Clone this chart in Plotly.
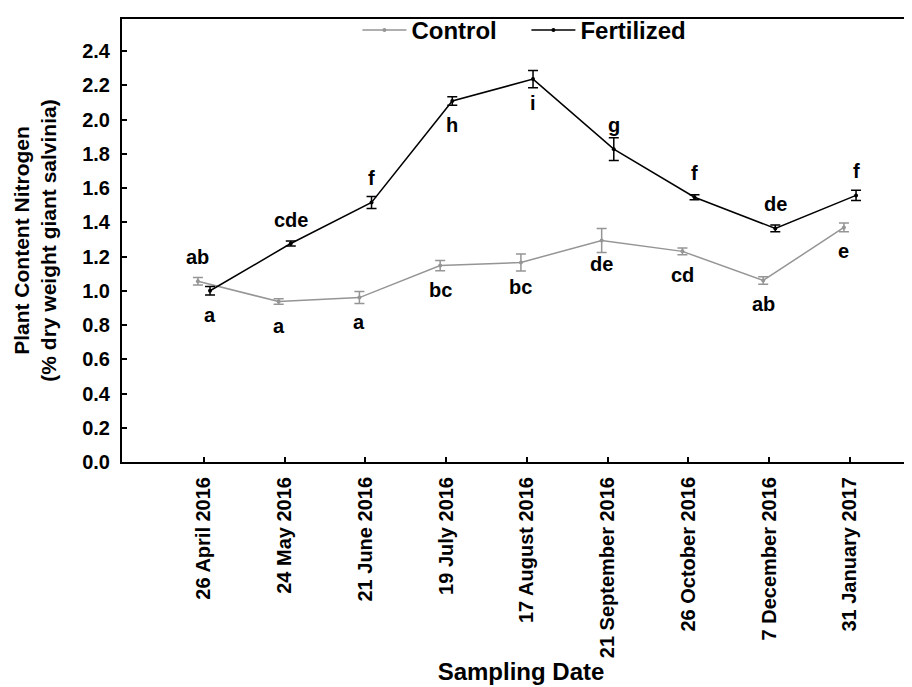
import plotly.graph_objects as go

dates = ["26 April 2016", "24 May 2016", "21 June 2016", "19 July 2016", "17 August 2016",
         "21 September 2016", "26 October 2016", "7 December 2016", "31 January 2017"]

control_mean = [1.055, 0.937, 0.96, 1.147, 1.165, 1.294, 1.23, 1.06, 1.37]
control_err = [0.022, 0.016, 0.035, 0.03, 0.05, 0.07, 0.02, 0.022, 0.025]
control_letters = ["ab", "a", "a", "bc", "bc", "de", "cd", "ab", "e"]

fert_mean = [1.00, 1.276, 1.516, 2.108, 2.236, 1.827, 1.546, 1.364, 1.557]
fert_err = [0.025, 0.015, 0.035, 0.025, 0.05, 0.066, 0.015, 0.02, 0.03]
fert_letters = ["a", "cde", "f", "h", "i", "g", "f", "de", "f"]

idx = list(range(len(dates)))
offset = 0.075
ctrl_x = [i - offset for i in idx]
fert_x = [i + offset for i in idx]

FONT = "Liberation Sans, Arial, sans-serif"
GRAY = "#959595"
BLACK = "#000000"

fig = go.Figure()
fig.add_trace(go.Scatter(
    x=ctrl_x, y=control_mean, name="Control", mode="lines+markers",
    line=dict(color=GRAY, width=1.5), marker=dict(color=GRAY, size=4),
    error_y=dict(type="data", array=control_err, color=GRAY, thickness=1.5, width=5),
))
fig.add_trace(go.Scatter(
    x=fert_x, y=fert_mean, name="Fertilized", mode="lines+markers",
    line=dict(color=BLACK, width=1.5), marker=dict(color=BLACK, size=4),
    error_y=dict(type="data", array=fert_err, color=BLACK, thickness=1.5, width=5),
))

# letter labels: +1 above the point, -1 below
ctrl_side = [1, -1, -1, -1, -1, -1, -1, -1, -1]
fert_side = [-1, 1, 1, -1, -1, 1, 1, 1, 1]
annotations = []
for xs, ys, letters, sides in [(ctrl_x, control_mean, control_letters, ctrl_side),
                               (fert_x, fert_mean, fert_letters, fert_side)]:
    for x, y, t, s in zip(xs, ys, letters, sides):
        annotations.append(dict(
            x=x, y=y, xref="x", yref="y", text=t, showarrow=False,
            yshift=24 * s, font=dict(family=FONT, size=20, color="black", weight="bold"),
        ))

fig.update_layout(
    width=912, height=687,
    margin=dict(l=114, r=0, t=11, b=233),
    paper_bgcolor="white", plot_bgcolor="white",
    font=dict(family=FONT, size=20, color="black", weight="bold"),
    showlegend=True,
    legend=dict(orientation="h", x=0.295, y=0.975, xanchor="left", yanchor="middle",
                font=dict(family=FONT, size=24, color="black", weight="bold"),
                bgcolor="rgba(0,0,0,0)", itemwidth=44, tracegroupgap=0,
                entrywidth=110, entrywidthmode="pixels"),
    annotations=annotations,
)
fig.update_xaxes(
    range=[-1.015, 8.867], tickmode="array", tickvals=idx, ticktext=dates,
    tickangle=-90, ticks="inside", ticklen=5, tickwidth=1.5, tickcolor="black",
    showline=True, linecolor="black", linewidth=2, mirror=True,
    showgrid=False, zeroline=False,
    tickfont=dict(family=FONT, size=20, color="black", weight="bold"),
    ticklabelstandoff=5,
    title=dict(text="Sampling Date", standoff=2,
               font=dict(family=FONT, size=24, color="black", weight="bold")),
)
fig.update_yaxes(
    range=[0, 2.587], tickmode="array", tickvals=[i / 10 for i in range(0, 25, 2)],
    tickformat=".1f",
    ticks="inside", ticklen=5, tickwidth=1.5, tickcolor="black",
    showline=True, linecolor="black", linewidth=2, mirror=False,
    showgrid=False, zeroline=False,
    tickfont=dict(family=FONT, size=20, color="black", weight="bold"),
    ticklabelstandoff=6,
    title=dict(text="Plant Content Nitrogen<br>(% dry weight giant salvinia)", standoff=20,
               font=dict(family=FONT, size=21, color="black", weight="bold")),
)

fig.write_html("out.html")
